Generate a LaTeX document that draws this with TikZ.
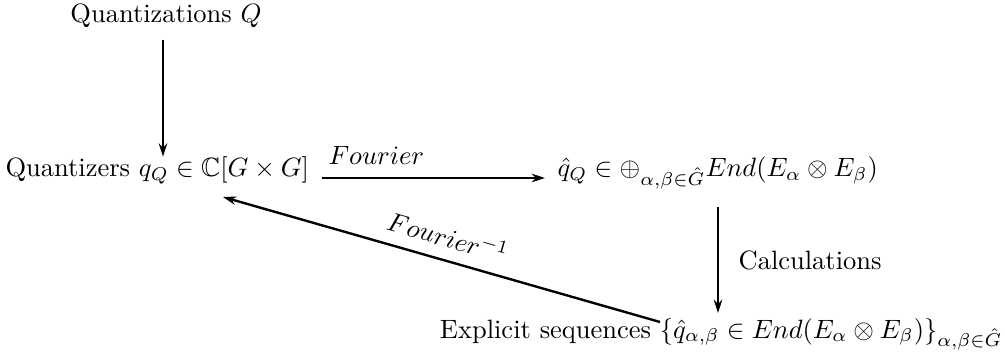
\documentclass[tikz,border=0pt]{standalone}
\usepackage{amsmath,amssymb}
\usetikzlibrary{arrows.meta}
\begin{document}
\begin{tikzpicture}[x=0.3774pt,y=-0.3774pt,
  lbl/.style={inner sep=0pt},
  arr/.style={-{Stealth[length=5pt,width=3.2pt]}, line width=0.9pt, black}]
\useasboundingbox (0,0) rectangle (1006,356);
\node[lbl, anchor=base] (qz) at (166,23) {Quantizations $Q$};
\node[lbl, anchor=base west] (qr) at (5,177) {Quantizers $q_Q\in\mathbb{C}[G\times G]$};
\node[lbl, anchor=base west] (rq) at (557,177) {$\hat q_Q\in\oplus_{\alpha,\beta\in\hat G}End(E_\alpha\otimes E_\beta)$};
\node[lbl, anchor=base east] (ex) at (1003,338) {Explicit sequences $\{\hat q_{\alpha,\beta}\in End(E_\alpha\otimes E_\beta)\}_{\alpha,\beta\in\hat G}$};
% vertical arrow top
\coordinate (a1) at (163,40);
\draw[arr] (a1) -- (a1 |- qr.north);
% Fourier arrow
\coordinate (f0) at ([xshift=12*0.3774pt]qr.east |- 0,178);
\coordinate (f1) at ([xshift=-12*0.3774pt]rq.west |- 0,178);
\draw[arr] (f0) -- (f1);
\node[lbl, anchor=base west] (fl) at (328,165) {$Fourier$};
% Calculations arrow
\coordinate (c0) at (718,207);
\coordinate (c1) at (718,313);
\draw[arr] (c0) -- node[right=4pt] (cl) {Calculations} (c1);
% inverse Fourier
\coordinate (i1) at (223,197);
\coordinate (i0) at (660,322);
\draw[arr] (i0) -- (i1);
\path (i1) -- node[lbl, sloped, above=4.8pt, pos=0.5] (il) {$Fourier^{-1}$} (i0);
\end{tikzpicture}
\end{document}
